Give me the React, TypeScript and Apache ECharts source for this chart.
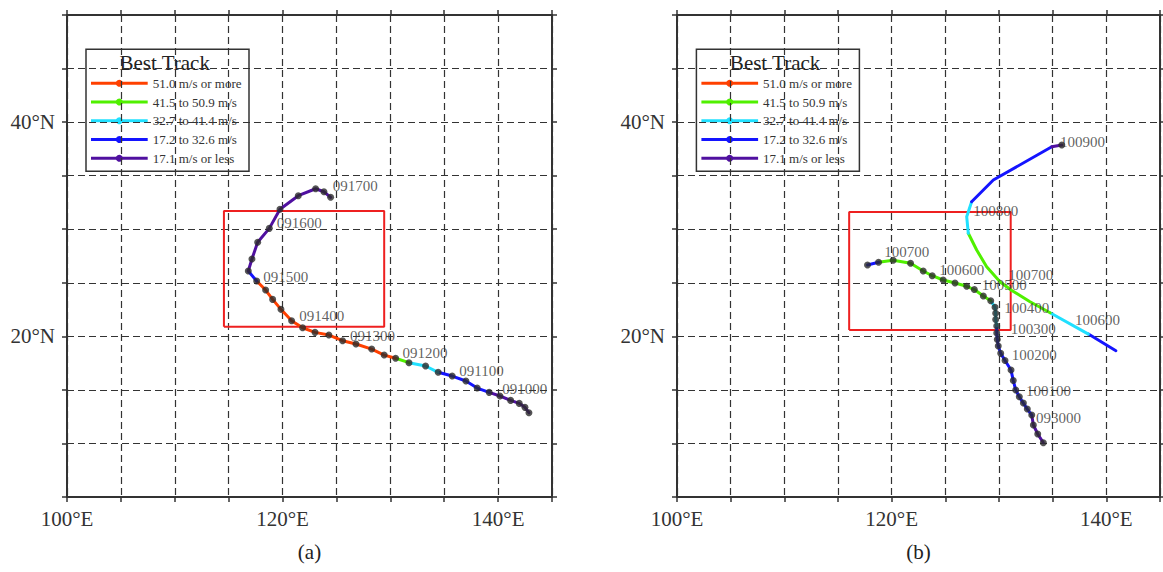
import React, { useEffect, useRef } from "react";
import * as echarts from "echarts";

const COLORS: Record<string, string> = {
  R: "#ff4000",
  G: "#50f000",
  C: "#20e0ff",
  B: "#1414ff",
  P: "#5010a0",
};

const legendKeys = ["R", "G", "C", "B", "P"];
const legendNames = [
  "51.0 m/s or more",
  "41.5 to 50.9 m/s",
  "32.7 to 41.4 m/s",
  "17.2 to 32.6 m/s",
  "17.1 m/s or less",
];

const xTickLabels = [100, 120, 140];
const yTickLabels = [20, 40];

// Panel (a) best track
const lonA = [142.86, 142.49, 141.96, 141.16, 140.17, 139.17, 138.06, 137.01, 135.74, 134.44, 133.27, 131.73, 130.49, 129.43, 128.27, 126.81, 125.57, 124.3, 123.01, 121.86, 120.84, 119.85, 119.08, 118.43, 117.6, 116.82, 117.16, 117.69, 118.77, 119.76, 121.46, 123.07, 123.84, 124.46];
const latA = [12.87, 13.37, 13.74, 14.02, 14.43, 14.77, 15.17, 15.83, 16.29, 16.64, 17.23, 17.54, 17.95, 18.25, 18.81, 19.28, 19.59, 20.12, 20.37, 20.8, 21.46, 22.52, 23.45, 24.32, 25.16, 26.1, 27.22, 28.78, 30.08, 31.86, 33.13, 33.78, 33.5, 32.98];
const segA = ["P","P","P","P","P","B","B","B","B","C","C","G","R","R","R","R","R","R","R","R","R","R","R","R","B","P","P","P","P","P","P","P","P"];
const labelNamesA = ["091000", "091100", "091200", "091300", "091400", "091500", "091600", "091700"];
const labelLonA = [140.38, 136.39, 131.14, 126.25, 121.55, 118.21, 119.45, 124.65];
const labelLatA = [15.08, 16.79, 18.41, 20.06, 21.92, 25.56, 30.55, 34.03];
const boxA = { lon0: 114.56, lon1: 129.43, lat0: 20.9, lat1: 31.7 };

// Panel (b) track 1 (with 6-hourly dots)
const lonB1 = [134.13, 133.61, 133.2, 133.05, 132.64, 132.27, 131.89, 131.56, 131.33, 131.12, 130.56, 130.16, 129.93, 129.84, 129.79, 129.79, 129.69, 129.69, 129.63, 129.23, 128.54, 127.7, 126.99, 125.9, 124.8, 123.78, 122.94, 121.76, 120.14, 118.78, 117.75];
const latB1 = [10.07, 10.88, 11.72, 12.65, 13.21, 13.77, 14.36, 14.99, 15.87, 16.85, 17.74, 18.41, 19.09, 19.7, 20.31, 20.96, 21.57, 22.15, 22.71, 23.32, 23.76, 24.37, 24.67, 24.98, 25.26, 25.66, 26.1, 26.82, 27.1, 26.91, 26.66];
const segB1 = ["P","P","P","B","B","B","B","B","B","B","B","B","B","B","B","C","C","C","C","G","G","G","G","G","G","G","G","G","G","B"];

// Panel (b) track 2 (line only, dot at end)
const lonB2 = [140.89, 138.33, 134.76, 132.89, 131.19, 130.09, 128.85, 127.92, 127.14, 126.99, 127.45, 129.47, 134.92, 135.85];
const latB2 = [18.66, 20.21, 22.2, 23.23, 24.28, 25.1, 26.5, 28.06, 29.62, 31.17, 32.57, 34.59, 37.7, 37.86];
const segB2 = ["B","C","G","G","G","G","G","G","C","C","B","B","P"];

const labelNamesB = ["093000", "100100", "100200", "100300", "100400", "100500", "100600", "100700", "100900", "100800", "100700", "100600"];
const labelLonB = [133.45, 132.52, 131.18, 131.09, 130.49, 128.39, 124.43, 119.3, 135.69, 127.6, 130.87, 137.09];
const labelLatB = [12.34, 14.89, 18.25, 20.68, 22.61, 24.76, 26.19, 27.84, 38.11, 31.73, 25.72, 21.52];
const boxB = { lon0: 116.04, lon1: 131.09, lat0: 20.59, lat1: 31.61 };

const SERIF = "Liberation Serif";
const AX = "#333333";

function runs(lon: number[], lat: number[], seg: string[], xi: number, yi: number) {
  const out: any[] = [];
  let start = 0;
  for (let i = 1; i <= seg.length; i++) {
    if (i === seg.length || seg[i] !== seg[start]) {
      const data: number[][] = [];
      for (let k = start; k <= i; k++) data.push([lon[k], lat[k]]);
      out.push({
        type: "line",
        xAxisIndex: xi,
        yAxisIndex: yi,
        data,
        showSymbol: false,
        symbol: "none",
        silent: true,
        z: 3,
        lineStyle: { color: COLORS[seg[start]], width: 3, cap: "round", join: "round" },
      });
      start = i;
    }
  }
  return out;
}

function dots(lon: number[], lat: number[], xi: number, yi: number) {
  return {
    type: "scatter",
    xAxisIndex: xi,
    yAxisIndex: yi,
    symbolSize: 7,
    itemStyle: { color: "#2a2a2a" },
    z: 4,
    silent: true,
    data: lon.map((v, i) => [v, lat[i]]),
  };
}

function labels(names: string[], lon: number[], lat: number[], xi: number, yi: number) {
  return {
    type: "scatter",
    xAxisIndex: xi,
    yAxisIndex: yi,
    symbolSize: 0,
    z: 5,
    silent: true,
    label: {
      show: true,
      position: "right",
      distance: 0,
      formatter: (p: any) => p.name,
      fontFamily: SERIF,
      fontSize: 15,
      color: "#383838",
    },
    data: names.map((n, i) => ({ name: n, value: [lon[i], lat[i]] })),
  };
}

function box(b: { lon0: number; lon1: number; lat0: number; lat1: number }, xi: number, yi: number) {
  return {
    type: "line",
    xAxisIndex: xi,
    yAxisIndex: yi,
    showSymbol: false,
    symbol: "none",
    silent: true,
    z: 2,
    lineStyle: { color: "#ee2020", width: 2 },
    data: [
      [b.lon0, b.lat0],
      [b.lon1, b.lat0],
      [b.lon1, b.lat1],
      [b.lon0, b.lat1],
      [b.lon0, b.lat0],
    ],
  };
}

function xAxes(grid: number) {
  const common = {
    gridIndex: grid,
    type: "value",
    min: 100,
    max: 145,
    interval: 5,
    axisLine: { show: true, onZero: false, lineStyle: { color: AX, width: 2 } },
    axisTick: { show: true, inside: false, length: 5, lineStyle: { color: AX, width: 1.5 } },
  };
  return [
    {
      ...common,
      position: "bottom",
      axisLabel: {
        show: true,
        margin: 11,
        fontFamily: SERIF,
        fontSize: 21,
        color: AX,
        formatter: (v: number) => (xTickLabels.includes(v) ? v + "°E" : ""),
      },
      splitLine: { show: true, lineStyle: { color: AX, width: 1.2, type: [7, 4] } },
    },
    {
      ...common,
      position: "top",
      axisLabel: { show: false },
      splitLine: { show: false },
    },
  ];
}

function yAxes(grid: number) {
  const common = {
    gridIndex: grid,
    type: "value",
    min: 5,
    max: 50,
    interval: 5,
    axisLine: { show: true, onZero: false, lineStyle: { color: AX, width: 2 } },
    axisTick: { show: true, inside: false, length: 5, lineStyle: { color: AX, width: 1.5 } },
  };
  return [
    {
      ...common,
      position: "left",
      axisLabel: {
        show: true,
        margin: 12,
        fontFamily: SERIF,
        fontSize: 21,
        color: AX,
        formatter: (v: number) => (yTickLabels.includes(v) ? v + "°N" : ""),
      },
      splitLine: { show: true, lineStyle: { color: AX, width: 1.2, type: [7, 4] } },
    },
    {
      ...common,
      position: "right",
      axisLabel: { show: false },
      splitLine: { show: false },
    },
  ];
}

function legendGraphic(left: number, top: number) {
  const rowY = [34, 52.75, 71.5, 90.25, 109];
  const children: any[] = [
    {
      type: "rect",
      shape: { x: 0, y: 0, width: 163, height: 122 },
      style: { fill: "#ffffff", stroke: "#333333", lineWidth: 1.5 },
    },
    {
      type: "text",
      style: {
        text: "Best Track",
        x: 78.7,
        y: 14,
        fill: "#222222",
        font: "21px " + SERIF,
        textAlign: "center",
        textVerticalAlign: "middle",
        align: "center",
        verticalAlign: "middle",
      },
    },
  ];
  legendKeys.forEach((k, i) => {
    const y = rowY[i];
    children.push({
      type: "line",
      shape: { x1: 5, y1: y, x2: 61.7, y2: y },
      style: { stroke: COLORS[k], lineWidth: 3 },
    });
    children.push({
      type: "circle",
      shape: { cx: 33.3, cy: y, r: 3.5 },
      style: { fill: COLORS[k] },
    });
    children.push({
      type: "text",
      style: {
        text: legendNames[i],
        x: 66.7,
        y: y,
        fill: "#333333",
        font: "13px " + SERIF,
        textAlign: "left",
        textVerticalAlign: "middle",
        align: "left",
        verticalAlign: "middle",
      },
    });
  });
  return { type: "group", x: left, y: top, z: 100, children };
}

function caption(text: string, cx: number) {
  return {
    type: "text",
    x: cx,
    y: 552,
    style: {
      text,
      x: 0,
      y: 0,
      fill: "#222222",
      font: "21px " + SERIF,
      textAlign: "center",
      textVerticalAlign: "middle",
      align: "center",
      verticalAlign: "middle",
    },
  };
}

export default function App() {
  const ref = useRef<HTMLDivElement>(null);
  useEffect(() => {
    if (!ref.current) return;
    const chart = echarts.init(ref.current, undefined, { renderer: "svg" });
    const option: any = {
      animation: false,
      backgroundColor: "#ffffff",
      grid: [
        { left: 67, top: 15, width: 485, height: 482 },
        { left: 677, top: 15, width: 483, height: 482 },
      ],
      xAxis: [...xAxes(0), ...xAxes(1)],
      yAxis: [...yAxes(0), ...yAxes(1)],
      series: [
        box(boxA, 0, 0),
        ...runs(lonA, latA, segA, 0, 0),
        dots(lonA, latA, 0, 0),
        labels(labelNamesA, labelLonA, labelLatA, 0, 0),
        box(boxB, 2, 2),
        ...runs(lonB2, latB2, segB2, 2, 2),
        dots([lonB2[lonB2.length - 1]], [latB2[latB2.length - 1]], 2, 2),
        ...runs(lonB1, latB1, segB1, 2, 2),
        dots(lonB1, latB1, 2, 2),
        labels(labelNamesB, labelLonB, labelLatB, 2, 2),
      ],
      graphic: [
        legendGraphic(86, 49.3),
        legendGraphic(696.4, 49.3),
        caption("(a)", 309.5),
        caption("(b)", 918.5),
      ],
    };
    chart.setOption(option);
    return () => chart.dispose();
  }, []);
  return (
    <div
      ref={ref}
      style={{ position: "fixed", left: 0, top: 0, width: 1163, height: 572, background: "#fff" }}
    />
  );
}
